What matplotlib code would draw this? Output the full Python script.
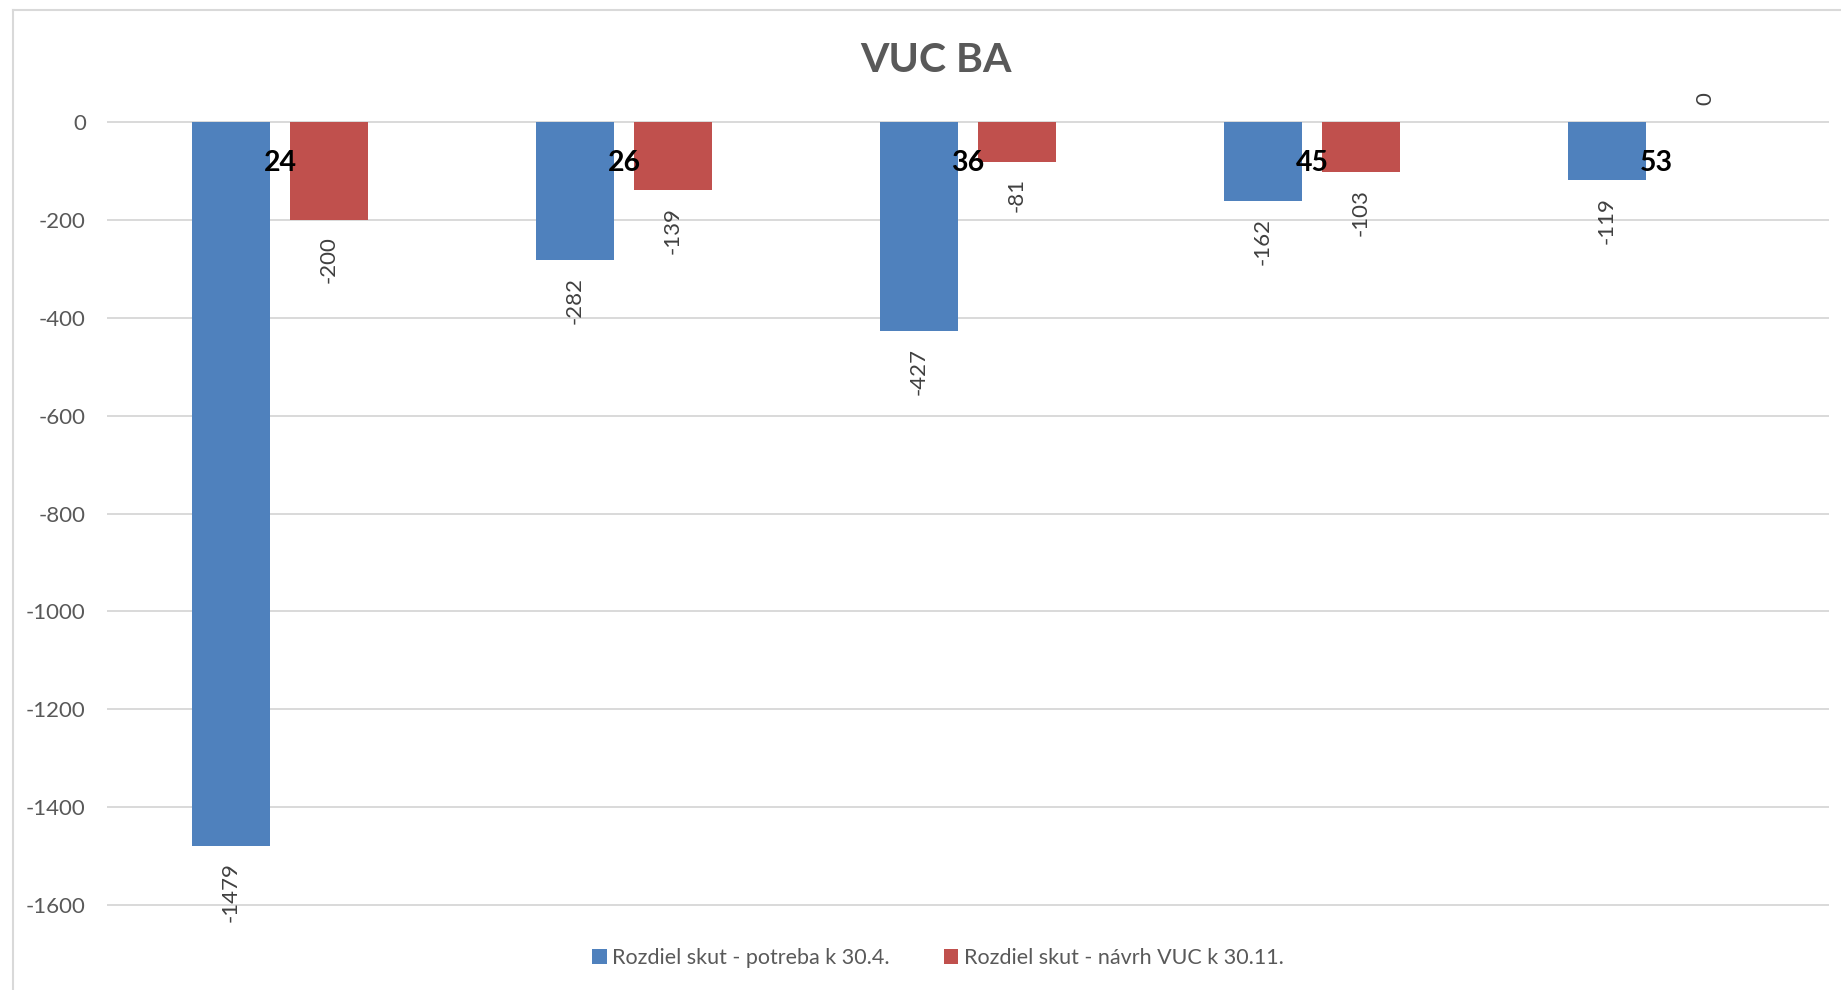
import matplotlib.pyplot as plt
import numpy as np
from matplotlib.lines import Line2D
from matplotlib.patches import Patch

plt.rcParams['font.family'] = ['Lato', 'DejaVu Sans']
plt.rcParams['axes.unicode_minus'] = False

# data
categories = ['24', '26', '36', '45', '53']
potreba = [-1479, -282, -427, -162, -119]
navrh = [-200, -139, -81, -103, 0]
series_names = ['Rozdiel skut - potreba k 30.4.', 'Rozdiel skut - návrh VUC k 30.11.']

blue = '#4F81BD'
red = '#C0504D'
grid_c = '#D9D9D9'
text_c = '#595959'

W, H = 1841, 990
fig = plt.figure(figsize=(W / 100, H / 100), dpi=100)
ax = fig.add_axes([108 / W, 1 - 905 / H, (1828 - 108) / W, (905 - 122) / H])

x = np.arange(len(categories))
bw = 0.224
off = 0.1425
b1 = ax.bar(x - off, potreba, bw, color=blue, linewidth=0, zorder=3)
b2 = ax.bar(x + off, navrh, bw, color=red, linewidth=0, zorder=3)

# rotated value labels just past the bar ends
for bars, vals in ((b1, potreba), (b2, navrh)):
    for rect, v in zip(bars, vals):
        cx = rect.get_x() + rect.get_width() / 2
        if v < 0:
            ax.annotate(str(v), (cx, v), xytext=(0, -12), textcoords='offset points',
                        rotation=90, ha='center', va='top', fontsize=16,
                        color='#404040', annotation_clip=False)
        else:
            ax.annotate(str(v), (cx, v), xytext=(0, 12), textcoords='offset points',
                        rotation=90, ha='center', va='bottom', fontsize=16,
                        color='#404040', annotation_clip=False)

# bold category labels between the bars
for xi, lab in zip(x, categories):
    ax.text(xi, -84, lab, ha='center', va='center', fontsize=20.5,
            fontweight='bold', color='black', zorder=5)

ax.set_xlim(-0.5, len(categories) - 0.5)
ax.set_ylim(-1600, 0)
ax.set_yticks(np.arange(-1600, 1, 200))
ax.set_xticks([])
ax.tick_params(axis='y', length=0, pad=16, labelsize=16, labelcolor=text_c)
ax.grid(axis='y', color=grid_c, linewidth=1.4, zorder=0)
for s in ax.spines.values():
    s.set_visible(False)
for gl in ax.get_ygridlines():
    gl.set_clip_on(False)

fig.text(936 / W, 1 - 61 / H, 'VUC BA', ha='center', va='center',
         fontsize=29.5, fontweight='bold', color=text_c)

handles = [Patch(facecolor=blue), Patch(facecolor=red)]
fig.legend(handles, series_names, loc='center', bbox_to_anchor=(938 / W, 1 - 958 / H),
           ncol=2, frameon=False, fontsize=15.5, labelcolor=text_c,
           handlelength=0.68, handleheight=0.68, handletextpad=0.25,
           columnspacing=2.5)

# chart area border (top and left edges)
fig.add_artist(Line2D([13 / W, 13 / W], [0, 1 - 10 / H], color=grid_c, linewidth=1.5))
fig.add_artist(Line2D([13 / W, 1], [1 - 10 / H, 1 - 10 / H], color=grid_c, linewidth=1.5))

fig.savefig('out.png', dpi=100, facecolor='white')
